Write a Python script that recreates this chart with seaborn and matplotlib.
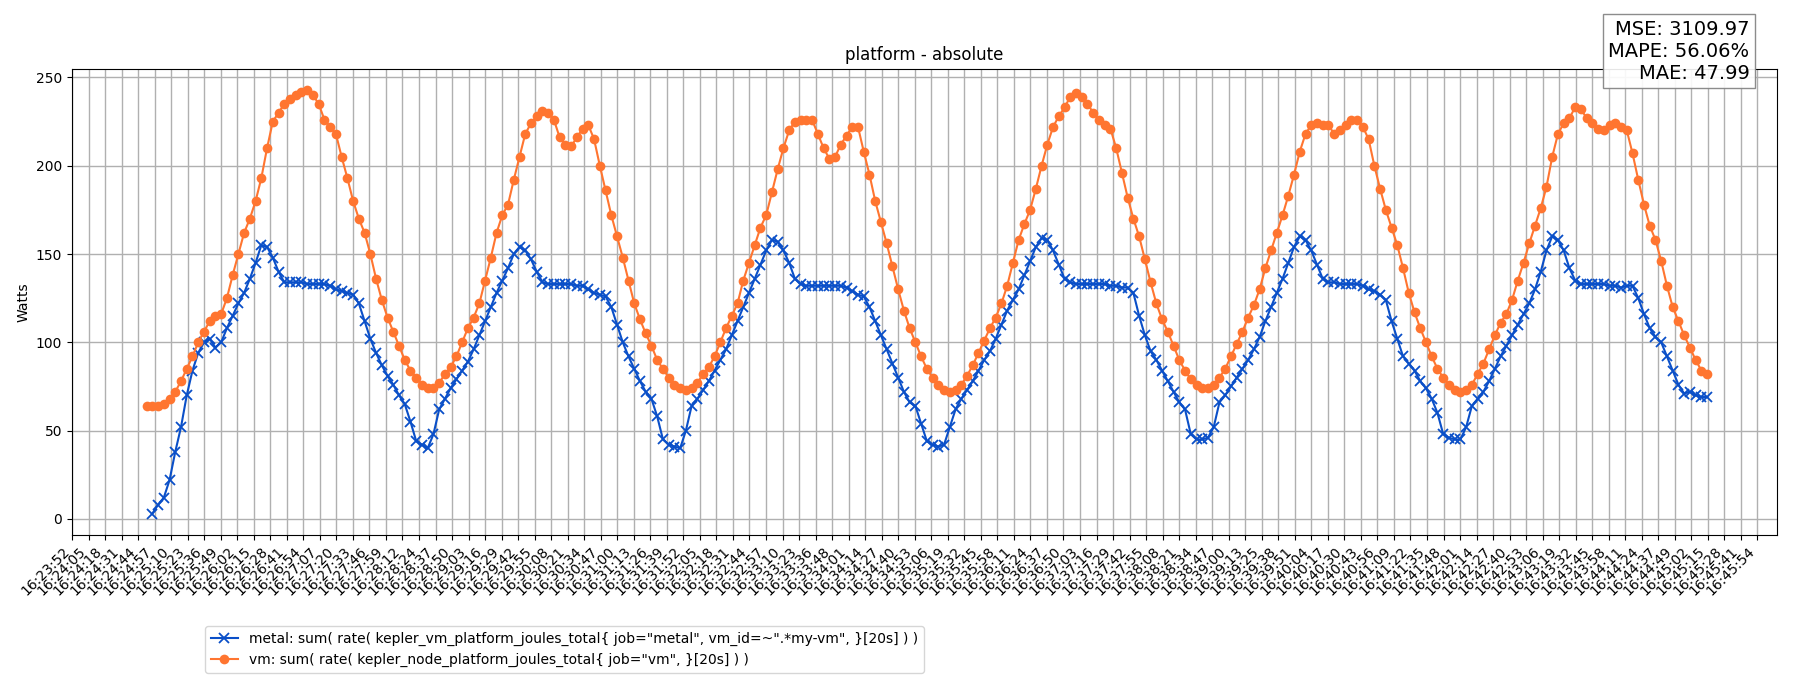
import numpy as np
import pandas as pd
import matplotlib
matplotlib.use("Agg")
import matplotlib.pyplot as plt
import seaborn as sns

# sample spacing (seconds), start offsets from 16:23:52
step_s = 4.5
vm_start_s = 58.5
metal_start_s = 63.0
axis_span_s = 1322  # 16:23:52 -> 16:45:54
n_ticks = 103

vm_watts = [
    64, 64, 64, 65, 68, 72, 78, 85, 92, 100, 106, 112, 115, 116, 125, 138, 150, 162, 170, 180,
    193, 210, 225, 230, 235, 238, 240, 242, 243, 240, 235, 226, 222, 218, 205, 193, 180, 170, 162, 150,
    136, 124, 114, 106, 98, 90, 84, 80, 76, 74, 74, 77, 82, 86, 92, 100, 108, 114, 122, 135,
    148, 162, 172, 178, 192, 205, 218, 224, 228, 231, 230, 226, 216, 212, 211, 216, 221, 223, 215, 200,
    186, 172, 160, 148, 135, 122, 113, 105, 98, 90, 85, 80, 76, 74, 73, 74, 77, 82, 86, 92,
    100, 108, 115, 122, 135, 145, 155, 165, 172, 185, 198, 210, 220, 225, 226, 226, 226, 218, 210, 204,
    205, 212, 217, 222, 222, 208, 195, 180, 168, 156, 143, 130, 118, 108, 100, 92, 85, 80, 76, 73,
    72, 73, 76, 81, 87, 94, 101, 108, 114, 122, 132, 145, 158, 167, 175, 187, 200, 212, 222, 228,
    233, 239, 241, 239, 235, 230, 226, 223, 221, 210, 196, 182, 170, 160, 147, 134, 122, 113, 106, 98,
    90, 84, 79, 76, 74, 74, 76, 80, 85, 92, 99, 106, 114, 121, 130, 142, 152, 162, 172, 183,
    195, 208, 218, 223, 224, 223, 223, 218, 220, 223, 226, 226, 222, 215, 200, 187, 175, 165, 155, 142,
    128, 117, 108, 100, 92, 85, 80, 76, 73, 72, 73, 76, 82, 88, 96, 104, 111, 116, 124, 135,
    145, 156, 166, 176, 188, 205, 218, 224, 227, 233, 232, 227, 224, 221, 220, 223, 224, 222, 220, 207,
    192, 178, 166, 158, 146, 132, 120, 112, 104, 97, 90, 84, 82,
]

metal_watts = [
    3, 8, 12, 22, 38, 52, 70, 84, 94, 100, 102, 97, 100, 108, 115, 122, 128, 136, 145, 155,
    154, 148, 140, 134, 134, 134, 134, 133, 133, 133, 133, 132, 130, 129, 128, 127, 122, 112, 102, 94,
    87, 81, 76, 70, 65, 55, 44, 42, 40, 48, 62, 68, 74, 79, 84, 89, 96, 104, 112, 120,
    128, 135, 142, 150, 154, 152, 147, 140, 134, 133, 133, 133, 133, 133, 132, 132, 130, 128, 127, 126,
    120, 110, 100, 92, 85, 78, 72, 68, 58, 45, 42, 41, 40, 50, 64, 68, 73, 78, 84, 90,
    96, 104, 112, 120, 128, 136, 144, 152, 158, 157, 152, 145, 136, 133, 132, 132, 132, 132, 132, 132,
    132, 131, 129, 127, 126, 120, 112, 104, 96, 88, 80, 72, 66, 64, 54, 44, 42, 41, 42, 52,
    62, 68, 73, 78, 84, 90, 95, 102, 110, 118, 124, 130, 138, 146, 154, 159, 158, 152, 144, 136,
    134, 133, 133, 133, 133, 133, 133, 132, 132, 131, 131, 128, 115, 104, 95, 90, 84, 78, 72, 66,
    62, 48, 45, 45, 46, 52, 66, 70, 75, 80, 85, 90, 96, 103, 112, 120, 128, 136, 145, 154,
    160, 158, 152, 144, 136, 134, 134, 133, 133, 133, 133, 132, 130, 129, 127, 124, 112, 102, 92, 88,
    84, 78, 74, 68, 60, 48, 46, 45, 45, 52, 64, 68, 72, 78, 85, 92, 98, 104, 110, 116,
    122, 130, 140, 152, 160, 158, 152, 142, 135, 133, 133, 133, 133, 133, 132, 132, 131, 132, 132, 125,
    116, 108, 103, 100, 92, 84, 76, 71, 72, 70, 69, 69,
]

t0 = pd.Timestamp("2024-01-01 16:23:52")
vm_t = vm_start_s + step_s * np.arange(len(vm_watts))
metal_t = metal_start_s + step_s * np.arange(len(metal_watts))

metal_label = 'metal: sum( rate( kepler_vm_platform_joules_total{ job="metal", vm_id=~".*my-vm", }[20s] ) )'
vm_label = 'vm: sum( rate( kepler_node_platform_joules_total{ job="vm", }[20s] ) )'
metal_color = "#0a4fc8"
vm_color = "#ff7530"

fig, ax = plt.subplots(figsize=(18, 7), dpi=100)
fig.subplots_adjust(left=0.04, right=0.987, top=0.902, bottom=0.236)

sns.lineplot(x=metal_t, y=metal_watts, ax=ax, color=metal_color, marker="x", dashes=False,
             linestyle="-", markersize=7, markeredgewidth=1.3, markeredgecolor=metal_color,
             linewidth=1.5, label=metal_label, legend=False)
sns.lineplot(x=vm_t, y=vm_watts, ax=ax, color=vm_color, marker="o", dashes=False,
             linestyle="-", markersize=7, markeredgewidth=0, linewidth=1.5,
             label=vm_label, legend=False)

ticks = np.linspace(0, axis_span_s, n_ticks)
labels = [(t0 + pd.Timedelta(seconds=int(np.floor(s + 0.8)))).strftime("%H:%M:%S") for s in ticks]
ax.set_xticks(ticks)
ax.set_xticklabels(labels, rotation=45, ha="right", fontsize=10)
ax.set_xlim(0, axis_span_s + 15)
ax.set_yticks([0, 50, 100, 150, 200, 250])
ax.grid(True, color="#b0b0b0", linewidth=1)
ax.set_axisbelow(True)
ax.set_title("platform - absolute", fontsize=12)
ax.set_ylabel("Watts")
ax.set_xlabel("")

handles, lbls = ax.get_legend_handles_labels()
fig.legend(handles, lbls, loc="upper left", bbox_to_anchor=(0.11, 0.115), fontsize=10)

fig.text(0.972, 0.972, "MSE: 3109.97\nMAPE: 56.06%\nMAE: 47.99", ha="right", va="top",
         fontsize=14, multialignment="right",
         bbox=dict(facecolor="white", edgecolor="gray", alpha=0.9, boxstyle="square,pad=0.3"))

fig.savefig("out.png", dpi=100)
